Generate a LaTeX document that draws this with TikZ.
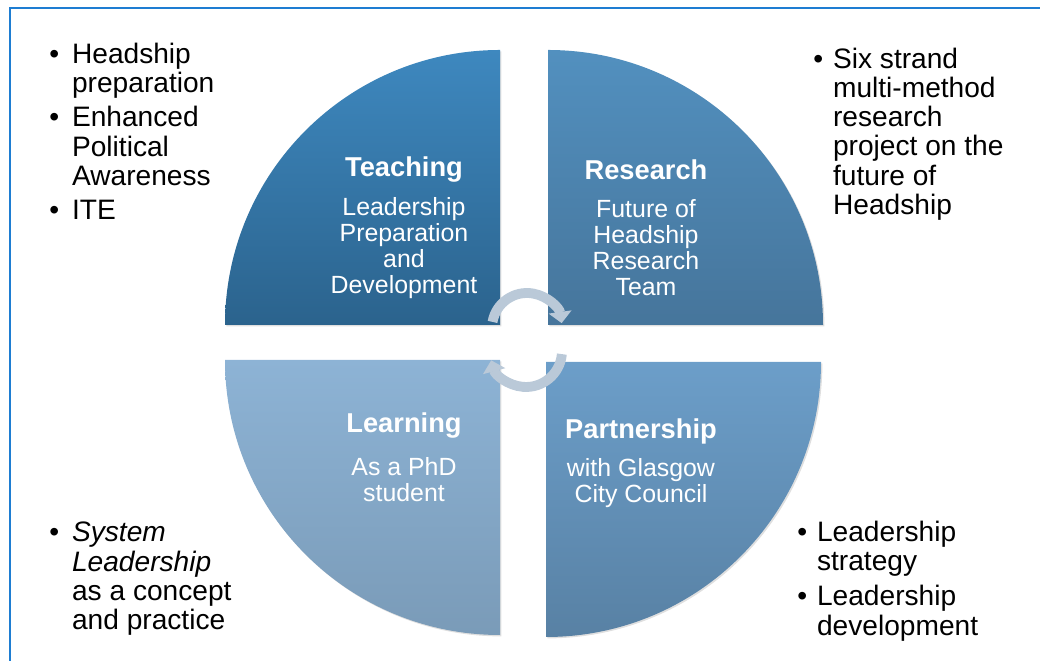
\documentclass[tikz,border=0pt]{standalone}
\usepackage{fontspec}
\setmainfont{Liberation Sans}
\usetikzlibrary{arrows.meta, positioning, shadows}
\definecolor{framecolor}{RGB}{30,125,210}
\definecolor{teachtop}{RGB}{62,136,191}
\definecolor{teachbot}{RGB}{43,99,141}
\definecolor{restop}{RGB}{82,144,191}
\definecolor{resbot}{RGB}{70,117,155}
\definecolor{learntop}{RGB}{141,179,213}
\definecolor{learnbot}{RGB}{122,155,184}
\definecolor{parttop}{RGB}{108,158,201}
\definecolor{partbot}{RGB}{88,129,164}
\definecolor{turncolor}{RGB}{186,201,216}
\newcommand\bul[1][0.57cm]{\makebox[#1][l]{\textbullet}}
\newcommand\ind[1][0.57cm]{\hspace*{#1}}

\begin{document}
\begin{tikzpicture}[
    x=0.025cm, y=0.025cm,
    quarter/.style={drop shadow={opacity=0.25, shadow xshift=1pt, shadow yshift=-1pt}},
    heading/.style={text=white, font=\bfseries\fontsize{19.4}{23}\selectfont, inner sep=0pt},
    detail/.style={text=white, align=center, font=\fontsize{17.7}{18.5}\selectfont, inner sep=0pt},
    notes/.style={align=left, anchor=north west, font=\fontsize{20}{20.7}\selectfont, inner sep=0pt},
    turn/.style={line width=7pt, draw=turncolor, -{Triangle[length=8pt, width=16pt]}}
]
    \useasboundingbox (0,0) rectangle (1040,661);
    \begin{scope}
        \clip (0,0) rectangle (1040,661);
        \draw[framecolor, line width=1.4pt] (10,-20) -- (10,653) -- (1070,653);
    \end{scope}

    % Quarters
    \path[quarter, top color=teachtop, bottom color=teachbot]
        (500,336) -- (225,336) arc[start angle=180, end angle=90, radius=275] -- cycle;
    \path[quarter, top color=restop, bottom color=resbot]
        (548,336) -- (548,611) arc[start angle=90, end angle=0, radius=275] -- cycle;
    \path[quarter, top color=learntop, bottom color=learnbot]
        (500,301) -- (225,301) arc[start angle=180, end angle=270, radius=275] -- cycle;
    \path[quarter, top color=parttop, bottom color=partbot]
        (546,299) -- (821,299) arc[start angle=0, end angle=-90, radius=275] -- cycle;

    % Quarter texts
    \node[heading] (teach) at (404,491) {Teaching};
    \node[detail] (teachtext) at (404,413) {Leadership\\Preparation\\and\\Development};
    \node[heading] (research) at (646,491) {Research};
    \node[detail] (researchtext) at (646,413) {Future of\\Headship\\Research\\Team};
    \node[heading] (learn) at (404,235) {Learning};
    \node[detail] (learntext) at (404,181) {As a PhD\\student};
    \node[heading] (partner) at (641,230) {Partnership};
    \node[detail] (partnertext) at (641,178) {with Glasgow\\City Council};

    % Cycle arrows
    \coordinate (hubtop) at (527,333);
    \coordinate (hubbot) at (526,310);
    \draw[turn] ([shift={(170:35)}]hubtop) arc[start angle=170, end angle=8, radius=35];
    \draw[turn] ([shift={(-5:36)}]hubbot) arc[start angle=-5, end angle=-165, radius=36];

    % Notes
    \node[notes] (teachnotes) at (49,618)
        {\bul Headship\\\ind preparation\\[3.6pt]\bul Enhanced\\\ind Political\\\ind Awareness\\[3.6pt]\bul ITE};
    \node[notes] (researchnotes) at (813,613)
        {\bul[0.3cm] Six strand\\\ind[0.3cm] multi-method\\\ind[0.3cm] research\\\ind[0.3cm] project on the\\\ind[0.3cm] future of\\\ind[0.3cm] Headship};
    \node[notes] (learnnotes) at (49,139)
        {\bul \textit{System}\\\ind \textit{Leadership}\\\ind as a concept\\\ind and practice};
    \node[notes] (partnernotes) at (797,140)
        {\bul[0.3cm] Leadership\\\ind[0.3cm] strategy\\[4.3pt]\bul[0.3cm] Leadership\\\ind[0.3cm] development};
\end{tikzpicture}
\end{document}
